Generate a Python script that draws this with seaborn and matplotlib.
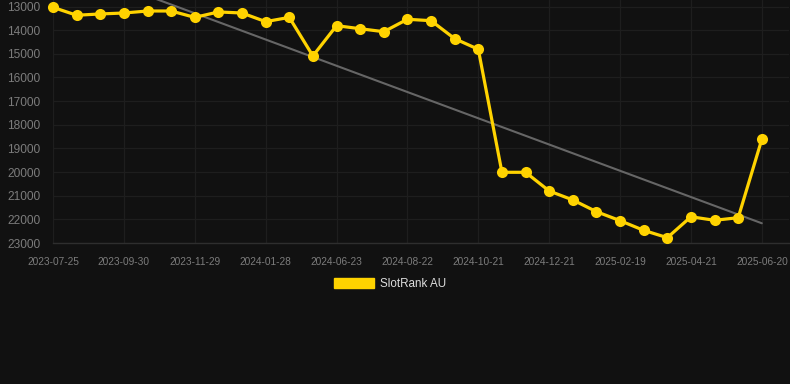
import numpy as np
import pandas as pd
import matplotlib
matplotlib.use("Agg")
import matplotlib.pyplot as plt
import matplotlib.patches as mpatches
import seaborn as sns

dates = [
    "2023-07-25", "2023-08-16", "2023-09-08", "2023-09-30", "2023-10-20",
    "2023-11-09", "2023-11-29", "2023-12-19", "2024-01-08", "2024-01-28",
    "2024-02-17", "2024-05-24", "2024-06-23", "2024-07-13", "2024-08-02",
    "2024-08-22", "2024-09-11", "2024-10-01", "2024-10-21", "2024-11-10",
    "2024-12-01", "2024-12-21", "2025-01-10", "2025-01-30", "2025-02-19",
    "2025-03-11", "2025-04-01", "2025-04-21", "2025-05-11", "2025-05-31",
    "2025-06-20",
]
rank_au = [
    13035, 13370, 13315, 13275, 13190, 13190, 13460, 13230, 13275, 13640,
    13460, 15090, 13810, 13940, 14065, 13540, 13600, 14360, 14810, 20010,
    20010, 20800, 21180, 21675, 22055, 22465, 22775, 21890, 22040, 21930,
    18615,
]
y_ticks = [13000, 14000, 15000, 16000, 17000, 18000, 19000, 20000, 21000, 22000, 23000]
series_name = "SlotRank AU"

BG = "#111111"
GOLD = "#FFD300"
GRID = "#1e1e1e"
TICK = "#7c7c7c"

sns.set_style("dark")
plt.rcParams["font.family"] = ["Liberation Sans", "DejaVu Sans"]

df = pd.DataFrame({"idx": np.arange(len(dates)), "date": dates, "rank": rank_au})

fig = plt.figure(figsize=(7.9, 3.84), dpi=100, facecolor=BG)
ax = fig.add_axes([53 / 790, 1 - 243 / 384, (789 - 53) / 790, 243 / 384])
ax.set_facecolor(BG)

sns.regplot(data=df, x="idx", y="rank", scatter=False, ci=None, ax=ax,
            color="#666666", line_kws={"linewidth": 1.5, "zorder": 2})
sns.lineplot(data=df, x="idx", y="rank", ax=ax, color=GOLD, linewidth=2.3,
             marker="o", markersize=8, markeredgewidth=0, zorder=3,
             clip_on=False)

ax.set_xlim(0, 31.15)
ax.set_ylim(23000, 12725)
ax.set_yticks(y_ticks)
ax.set_yticklabels([str(v) for v in y_ticks])
xt = list(range(0, len(dates), 3))
ax.set_xticks(xt)
ax.set_xticklabels([dates[i] for i in xt])

ax.grid(True, color=GRID, linewidth=0.9)
ax.set_axisbelow(True)
for s in ["top", "right", "left"]:
    ax.spines[s].set_visible(False)
ax.spines["bottom"].set_color("#2e2e2e")
ax.spines["bottom"].set_linewidth(1)
ax.tick_params(axis="y", length=0, pad=9, labelsize=8.6, labelcolor=TICK)
ax.tick_params(axis="x", length=4, color="#2e2e2e", pad=6, labelsize=7.3, labelcolor=TICK)
ax.set_xlabel("")
ax.set_ylabel("")

handle = mpatches.Patch(color=GOLD, label=series_name)
fig.legend(handles=[handle], loc="center", bbox_to_anchor=(390 / 790, 1 - 284 / 384),
           frameon=False, fontsize=8.4, labelcolor="#dddddd",
           handlelength=3.5, handleheight=0.95, handletextpad=0.5)

fig.savefig("out.png", dpi=100, facecolor=BG)
